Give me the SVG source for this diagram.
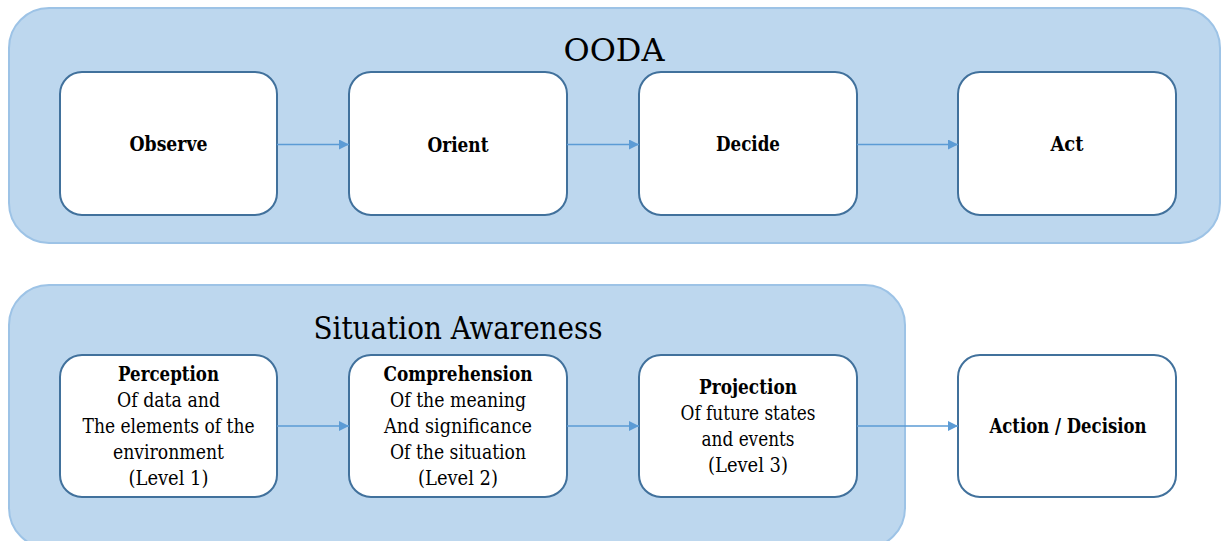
<svg xmlns="http://www.w3.org/2000/svg" width="1225" height="541" viewBox="0 0 1225 541">
  <defs>
    <marker id="arrow" viewBox="0 0 10 10" refX="10" refY="5" markerWidth="10" markerHeight="10" markerUnits="userSpaceOnUse" orient="auto">
      <path d="M0,0 L10,5 L0,10 z" fill="#5B9BD5"/>
    </marker>
  </defs>
  <style>
    .panel { fill: #BDD7EE; stroke: #9DC3E6; stroke-width: 2; }
    .box { fill: #FFFFFF; stroke: #41719C; stroke-width: 2; }
    text { font-family: 'DejaVu Serif', serif; fill: #000; text-anchor: middle; }
    .title { font-size: 32px; }
    .label { font-size: 20px; font-weight: bold; }
    .body { font-size: 20px; }
    .conn { stroke: #5B9BD5; stroke-width: 1.5; fill: none; marker-end: url(#arrow); }
  </style>

  <!-- OODA loop panel -->
  <g id="ooda-panel">
    <rect class="panel" x="9" y="8" width="1211" height="235" rx="40" ry="40"/>
    <text class="title" x="614" y="61" textLength="101" lengthAdjust="spacingAndGlyphs">OODA</text>
  </g>

  <!-- Situation awareness panel (runs past the lower edge) -->
  <g id="sa-panel">
    <rect class="panel" x="9" y="285" width="896" height="263" rx="40" ry="40"/>
    <text class="title" x="458" y="339" textLength="289" lengthAdjust="spacingAndGlyphs">Situation Awareness</text>
  </g>

  <!-- OODA stages -->
  <g id="observe">
    <rect class="box" x="60" y="72" width="217" height="143" rx="22" ry="22"/>
    <text class="label" x="168.5" y="151" textLength="78" lengthAdjust="spacingAndGlyphs">Observe</text>
  </g>
  <g id="orient">
    <rect class="box" x="349" y="72" width="218" height="143" rx="22" ry="22"/>
    <text class="label" x="458" y="152" textLength="61" lengthAdjust="spacingAndGlyphs">Orient</text>
  </g>
  <g id="decide">
    <rect class="box" x="639" y="72" width="218" height="143" rx="22" ry="22"/>
    <text class="label" x="748" y="151" textLength="64" lengthAdjust="spacingAndGlyphs">Decide</text>
  </g>
  <g id="act">
    <rect class="box" x="958" y="72" width="218" height="143" rx="22" ry="22"/>
    <text class="label" x="1067" y="151" textLength="33" lengthAdjust="spacingAndGlyphs">Act</text>
  </g>

  <!-- Situation awareness levels -->
  <g id="perception">
    <rect class="box" x="60" y="355" width="217" height="142" rx="22" ry="22"/>
    <text class="label" x="168.5" y="381" textLength="101" lengthAdjust="spacingAndGlyphs">Perception</text>
    <text class="body" x="168.5" y="407" textLength="103" lengthAdjust="spacingAndGlyphs">Of data and</text>
    <text class="body" x="168.5" y="433" textLength="172" lengthAdjust="spacingAndGlyphs">The elements of the</text>
    <text class="body" x="168.5" y="459" textLength="111" lengthAdjust="spacingAndGlyphs">environment</text>
    <text class="body" x="168.5" y="485" textLength="80" lengthAdjust="spacingAndGlyphs">(Level 1)</text>
  </g>
  <g id="comprehension">
    <rect class="box" x="349" y="355" width="218" height="142" rx="22" ry="22"/>
    <text class="label" x="458" y="381" textLength="149" lengthAdjust="spacingAndGlyphs">Comprehension</text>
    <text class="body" x="458" y="407" textLength="136" lengthAdjust="spacingAndGlyphs">Of the meaning</text>
    <text class="body" x="458" y="433" textLength="148" lengthAdjust="spacingAndGlyphs">And significance</text>
    <text class="body" x="458" y="459" textLength="136" lengthAdjust="spacingAndGlyphs">Of the situation</text>
    <text class="body" x="458" y="485" textLength="80" lengthAdjust="spacingAndGlyphs">(Level 2)</text>
  </g>
  <g id="projection">
    <rect class="box" x="639" y="355" width="218" height="142" rx="22" ry="22"/>
    <text class="label" x="748" y="394" textLength="98" lengthAdjust="spacingAndGlyphs">Projection</text>
    <text class="body" x="748" y="420" textLength="135" lengthAdjust="spacingAndGlyphs">Of future states</text>
    <text class="body" x="748" y="446" textLength="93" lengthAdjust="spacingAndGlyphs">and events</text>
    <text class="body" x="748" y="472" textLength="80" lengthAdjust="spacingAndGlyphs">(Level 3)</text>
  </g>
  <g id="action-decision">
    <rect class="box" x="958" y="355" width="218" height="142" rx="22" ry="22"/>
    <text class="label" x="1068" y="433" textLength="157" lengthAdjust="spacingAndGlyphs">Action / Decision</text>
  </g>

  <!-- Connectors -->
  <g id="connectors">
    <path class="conn" d="M277,144.5 L349,144.5"/>
    <path class="conn" d="M567,144.5 L639,144.5"/>
    <path class="conn" d="M857,144.5 L958,144.5"/>
    <path class="conn" d="M277,426 L349,426"/>
    <path class="conn" d="M567,426 L639,426"/>
    <path class="conn" d="M857,426 L958,426"/>
  </g>
</svg>
